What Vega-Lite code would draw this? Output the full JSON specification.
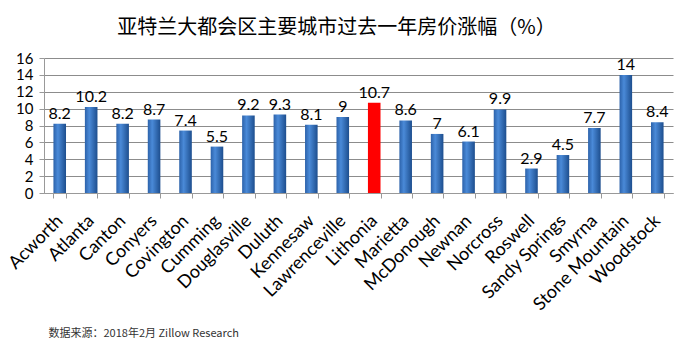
{
  "$schema": "https://vega.github.io/schema/vega-lite/v6.json",
  "autosize": {"type": "none"},
  "width": 629,
  "height": 135,
  "padding": {"left": 44, "top": 58, "right": 27, "bottom": 168},
  "background": "white",
  "title": {
    "text": "亚特兰大都会区主要城市过去一年房价涨幅（%）",
    "font": "Noto Sans CJK SC",
    "fontSize": 20,
    "fontWeight": "normal",
    "color": "#000000",
    "anchor": "middle",
    "dx": -22,
    "offset": 13
  },
  "data": {
    "values": [
      {"city": "Acworth", "value": 8.2},
      {"city": "Atlanta", "value": 10.2},
      {"city": "Canton", "value": 8.2},
      {"city": "Conyers", "value": 8.7},
      {"city": "Covington", "value": 7.4},
      {"city": "Cumming", "value": 5.5},
      {"city": "Douglasville", "value": 9.2},
      {"city": "Duluth", "value": 9.3},
      {"city": "Kennesaw", "value": 8.1},
      {"city": "Lawrenceville", "value": 9},
      {"city": "Lithonia", "value": 10.7},
      {"city": "Marietta", "value": 8.6},
      {"city": "McDonough", "value": 7},
      {"city": "Newnan", "value": 6.1},
      {"city": "Norcross", "value": 9.9},
      {"city": "Roswell", "value": 2.9},
      {"city": "Sandy Springs", "value": 4.5},
      {"city": "Smyrna", "value": 7.7},
      {"city": "Stone Mountain", "value": 14},
      {"city": "Woodstock", "value": 8.4}
    ]
  },
  "encoding": {
    "x": {
      "field": "city",
      "type": "nominal",
      "sort": null,
      "scale": {"paddingInner": 0.6, "paddingOuter": 0.3},
      "axis": {
        "title": "数据来源：2018年2月 Zillow Research",
        "titleFont": "Noto Sans CJK SC",
        "titleFontSize": 11,
        "titleFontWeight": "normal",
        "titleColor": "#333333",
        "titleX": 4,
        "titleY": 140,
        "titleAlign": "left",
        "titleBaseline": "middle",
        "titleAngle": 0,
        "labelAngle": -45,
        "labelAlign": "right",
        "labelBaseline": "middle",
        "labelFont": "Lato",
        "labelFontSize": 18,
        "labelColor": "#000000",
        "labelPadding": 20,
        "tickBand": "extent",
        "tickSize": 5,
        "tickColor": "#999999",
        "domainColor": "#999999",
        "grid": false
      }
    },
    "y": {
      "field": "value",
      "type": "quantitative",
      "scale": {"domain": [0, 16], "nice": false},
      "axis": {
        "title": null,
        "values": [0, 2, 4, 6, 8, 10, 12, 14, 16],
        "labelFont": "Lato",
        "labelFontSize": 15,
        "labelColor": "#000000",
        "labelPadding": 6,
        "tickSize": 5,
        "tickColor": "#999999",
        "domainColor": "#999999",
        "grid": true,
        "gridColor": "#8c8c8c",
        "gridWidth": 1
      }
    }
  },
  "layer": [
    {
      "mark": {"type": "bar"},
      "encoding": {
        "fill": {
          "condition": {"test": "datum.city === 'Lithonia'", "value": "#ff0000"},
          "value": {
            "gradient": "linear",
            "x1": 0, "y1": 0, "x2": 1, "y2": 0,
            "stops": [
              {"offset": 0, "color": "#2c62aa"},
              {"offset": 0.35, "color": "#4a8ad8"},
              {"offset": 1, "color": "#1d4e8e"}
            ]
          }
        }
      }
    },
    {
      "mark": {"type": "text", "dy": -10, "font": "Lato", "fontSize": 16, "color": "#000000"},
      "encoding": {
        "text": {"field": "value", "type": "quantitative"}
      }
    }
  ],
  "config": {
    "view": {"stroke": null}
  }
}
